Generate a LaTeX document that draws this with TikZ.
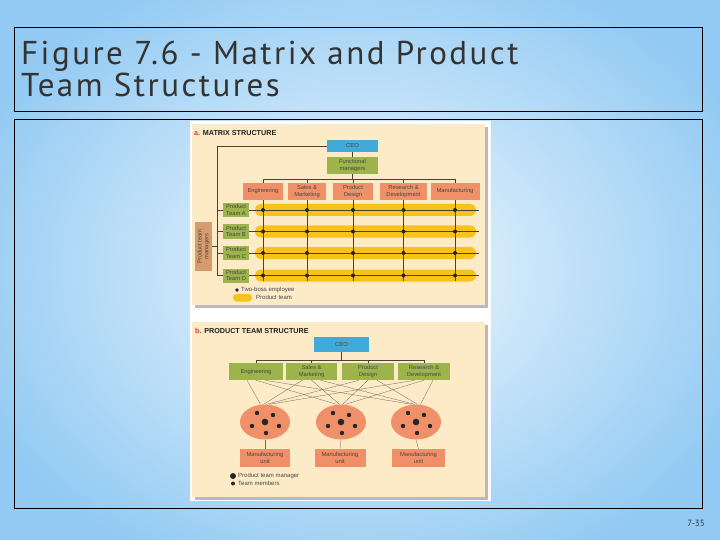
\documentclass[tikz,border=0pt]{standalone}
\usepackage{fontspec}
\setmainfont{PT Sans}
\newfontfamily\figfont{Liberation Sans}
\newfontfamily\titlefont[LetterSpace=7.5]{PT Sans}
\usetikzlibrary{shapes.geometric}
\definecolor{bgin}{HTML}{F2F9FE}
\definecolor{bgout}{HTML}{92CAF3}
\definecolor{cream}{HTML}{FDEBC8}
\definecolor{ceoblue}{HTML}{41AAD9}
\definecolor{fgreen}{HTML}{9DB44C}
\definecolor{salmon}{HTML}{EF9068}
\definecolor{tanbox}{HTML}{D69C6E}
\definecolor{teamyellow}{HTML}{F8C21C}
\definecolor{linec}{HTML}{4A4036}
\definecolor{titlec}{HTML}{333333}
\definecolor{redlab}{HTML}{D2452B}
\begin{document}
\begin{tikzpicture}[x=1pt,y=-1pt,
  fbox/.style={draw=none,inner sep=0pt,align=center,
    font=\figfont\fontsize{5.8}{6.8}\selectfont,text=black!72},
  conn/.style={draw=linec,line width=0.45pt},
  xline/.style={draw=linec!80,line width=0.3pt},
  dot/.style={fill=black!85,draw=none},
  legend/.style={anchor=west,inner sep=0pt,font=\figfont\fontsize{6}{6.8}\selectfont,text=black!72},
  ptitle/.style={anchor=west,inner sep=0pt,font=\figfont\bfseries\fontsize{7.2}{8}\selectfont,text=black!88}]
\useasboundingbox (0,0) rectangle (720,540);
\shade[inner color=bgin,outer color=bgout] (-60,-60) rectangle (780,600);
% title box
\draw[black,line width=0.9pt] (14,27) rectangle (702,111);
\node[anchor=base west,inner sep=0pt,text=titlec,font=\titlefont\fontsize{33}{35}\selectfont] (title1) at (21,65) {Figure 7.6 - Matrix and Product};
\node[anchor=base west,inner sep=0pt,text=titlec,font=\titlefont\fontsize{33}{35}\selectfont] (title2) at (21,97) {Team Structures};
% content box
\draw[black,line width=0.9pt] (14,119) rectangle (702,508);
\node[anchor=east,inner sep=0pt,text=titlec,font=\fontsize{9}{10}\selectfont] (pnum) at (705,523) {7-35};
% figure backing
\fill[white] (190,121) rectangle (491,501);
\fill[black!45,opacity=0.6] (195,127) rectangle (488,308);
\fill[black!45,opacity=0.6] (195,325) rectangle (488,500);
\fill[cream] (192,124) rectangle (485,305);
\fill[cream] (192,322) rectangle (485,497);

% ===== panel a =====
\node[ptitle] (ta) at (194,133) {\textcolor{redlab}{a.} MATRIX STRUCTURE};
\node[fbox,fill=ceoblue,minimum width=51pt,minimum height=12pt] (aceo) at (352.5,146) {CEO};
\node[fbox,fill=fgreen,minimum width=51pt,minimum height=17pt] (afm) at (352.5,165.5) {Functional\\managers};
\node[fbox,fill=salmon,minimum width=40pt,minimum height=17pt] (f1) at (263,191.5) {Engineering};
\node[fbox,fill=salmon,minimum width=38pt,minimum height=17pt] (f2) at (307,191.5) {Sales \&\\Marketing};
\node[fbox,fill=salmon,minimum width=40pt,minimum height=17pt] (f3) at (353,191.5) {Product\\Design};
\node[fbox,fill=salmon,minimum width=47pt,minimum height=17pt] (f4) at (403.5,191.5) {Research \&\\Development};
\node[fbox,fill=salmon,minimum width=49pt,minimum height=17pt] (f5) at (455,191.5) {Manufacturing};
\coordinate (abus) at (352.5,179);
\draw[conn] (aceo) -- (afm);
\draw[conn] (afm.south) -- (abus);
\draw[conn] (f1.north |- abus) -- (f5.north |- abus);
\foreach \f in {f1,f2,f3,f4,f5}{\draw[conn] (\f.north |- abus) -- (\f.north);}
% product team bars
\foreach \y in {210,231.5,253,275.5}{
  \fill[teamyellow,rounded corners=6pt] (255,\y-6) rectangle (476,\y+6);
}
\node[fbox,fill=fgreen,minimum width=26pt,minimum height=14pt] (tA) at (236,210) {Product\\Team A};
\node[fbox,fill=fgreen,minimum width=26pt,minimum height=14pt] (tB) at (236,231.5) {Product\\Team B};
\node[fbox,fill=fgreen,minimum width=26pt,minimum height=14pt] (tC) at (236,253) {Product\\Team C};
\node[fbox,fill=fgreen,minimum width=26pt,minimum height=14pt] (tD) at (236,275.5) {Product\\Team D};
\coordinate (aend) at (479,0);
\coordinate (abot) at (0,281);
\foreach \f in {f1,f2,f3,f4,f5}{\draw[conn] (\f.south) -- (\f.south |- abot);}
\foreach \t in {tA,tB,tC,tD}{
  \draw[conn] (\t.east) -- (\t.east -| aend);
  \foreach \f in {f1,f2,f3,f4,f5}{\fill[dot] (\f.south |- \t.east) circle (2pt);}
}
% left spine
\coordinate (aspine) at (217,146);
\draw[conn] (aceo.west) -- (aspine) -- (aspine |- tD.west);
\foreach \t in {tA,tB,tC,tD}{\draw[conn] (aspine |- \t.west) -- (\t.west);}
\node[fbox,fill=tanbox,minimum width=49pt,minimum height=17pt,rotate=90] (ptm) at (203.5,246.5) {Product team\\managers};
\draw[conn] (ptm.south) -- (aspine |- ptm.south);
% legend a
\fill[dot] (237,290) circle (1.8pt);
\node[legend] (la1) at (241,290) {Two-boss employee};
\fill[teamyellow,rounded corners=3.5pt] (233,294) rectangle (252,301.5);
\node[legend] (la2) at (256,297.7) {Product team};

% ===== panel b =====
\node[ptitle] (tb) at (195,331) {\textcolor{redlab}{b.} PRODUCT TEAM STRUCTURE};
\node[fbox,fill=ceoblue,minimum width=55pt,minimum height=15pt] (bceo) at (341.5,344.5) {CEO};
\node[fbox,fill=fgreen,minimum width=54pt,minimum height=17pt] (b1) at (256,371.5) {Engineering};
\node[fbox,fill=fgreen,minimum width=51pt,minimum height=17pt] (b2) at (311.5,371.5) {Sales \&\\Marketing};
\node[fbox,fill=fgreen,minimum width=52pt,minimum height=17pt] (b3) at (368,371.5) {Product\\Design};
\node[fbox,fill=fgreen,minimum width=52pt,minimum height=17pt] (b4) at (424,371.5) {Research \&\\Development};
\coordinate (bbus) at (341.5,360);
\draw[conn] (bceo.south) -- (bbus);
\draw[conn] (b1.north |- bbus) -- (b4.north |- bbus);
\foreach \b in {b1,b2,b3,b4}{\draw[conn] (\b.north |- bbus) -- (\b.north);}
% ellipses
\node[ellipse,fill=salmon,draw=none,minimum width=50pt,minimum height=35pt,inner sep=0pt] (e1) at (265,422) {};
\node[ellipse,fill=salmon,draw=none,minimum width=50pt,minimum height=35pt,inner sep=0pt] (e2) at (341,422) {};
\node[ellipse,fill=salmon,draw=none,minimum width=50pt,minimum height=35pt,inner sep=0pt] (e3) at (416,422) {};
% cross lines
\foreach \b/\bo in {b1/-1,b2/0,b3/1,b4/2}{
  \foreach \e/\eo in {e1/-1,e2/0,e3/1}{
    \draw[xline] ([xshift=\eo*9pt]\b.south) -- ([xshift=\bo*3pt-1.5pt]\e.north);
  }
}
\foreach \e in {e1,e2,e3}{
  \fill[dot] (\e.center) circle (3.3pt);
  \fill[dot] ([shift={(-8,-9)}]\e.center) circle (2.2pt);
  \fill[dot] ([shift={(8,-7)}]\e.center) circle (2.2pt);
  \fill[dot] ([shift={(-13,4)}]\e.center) circle (2.2pt);
  \fill[dot] ([shift={(14,4)}]\e.center) circle (2.2pt);
  \fill[dot] ([shift={(1,11)}]\e.center) circle (2.2pt);
}
\node[fbox,fill=salmon,minimum width=50pt,minimum height=18pt] (u1) at (265,458) {Manufacturing\\unit};
\node[fbox,fill=salmon,minimum width=51pt,minimum height=18pt] (u2) at (340,458) {Manufacturing\\unit};
\node[fbox,fill=salmon,minimum width=53pt,minimum height=18pt] (u3) at (418.5,458) {Manufacturing\\unit};
\draw[xline] (e1.south) -- (u1.north);
\draw[xline] (e2.south) -- (u2.north);
\draw[xline] (e3.south) -- (u3.north);
% legend b
\fill[dot] (233,476) circle (3pt);
\node[legend] (lb1) at (238,476) {Product team manager};
\fill[dot] (233,483.5) circle (2pt);
\node[legend] (lb2) at (238,483.5) {Team members};
\end{tikzpicture}
\end{document}
